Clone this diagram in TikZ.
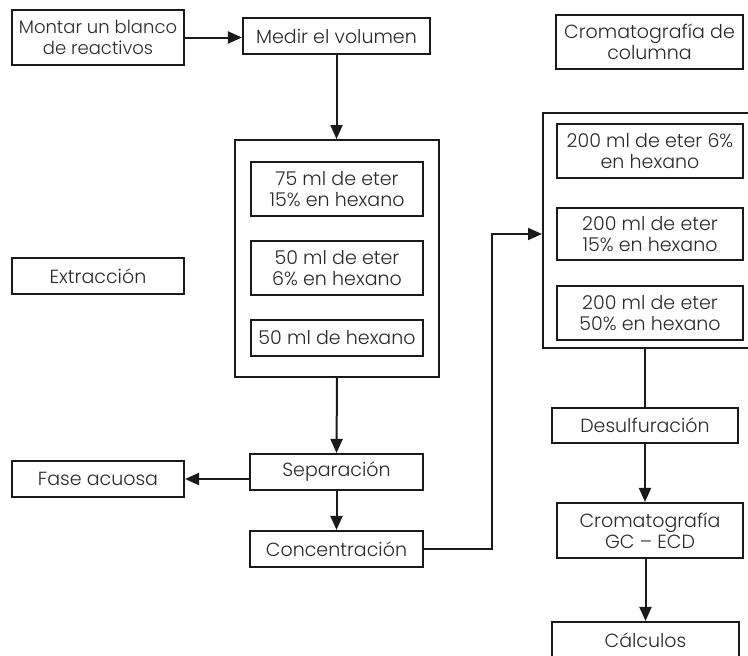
\documentclass[tikz,border=0pt]{standalone}
\usepackage{fontspec}
\setmainfont{Poppins}[UprightFont=* Light]
\usetikzlibrary{arrows.meta}
\definecolor{ink}{HTML}{1A1A1A}
\definecolor{txt}{HTML}{2A2A2A}
\begin{document}
\begin{tikzpicture}[x=1pt,y=-1pt,
  box/.style={draw=ink, line width=2.1pt, text=txt, align=center,
    font=\fontsize{19}{21}\selectfont, inner sep=0pt},
  frame/.style={draw=ink, line width=2pt, inner sep=0pt},
  flow/.style={draw=ink, line width=2pt, -{Triangle[length=14pt,width=12pt]}},
  link/.style={draw=ink, line width=2pt}]
\useasboundingbox[fill=white] (0,0) rectangle (748,656);
\clip (0,0) rectangle (748,656);

% left column: preparation and extraction
\node[box, font=\fontsize{18}{21}\selectfont, minimum width=172pt, minimum height=55pt]
  (montar) at (98,37.5) {Montar un blanco\\de reactivos};
\node[box, minimum width=187pt, minimum height=36pt] (medir) at (336.5,36)
  {Medir el volumen};
\node[box, minimum width=172pt, minimum height=36pt] (extr) at (98,276)
  {Extracción};

\node[frame, minimum width=204pt, minimum height=237pt] (exframe) at (337,258.5) {};
\node[box, minimum width=172pt, minimum height=54pt] (e1) at (337,189)
  {75 ml de eter\\15\% en hexano};
\node[box, minimum width=172pt, minimum height=54pt] (e2) at (337,268)
  {50 ml de eter\\6\% en hexano};
\node[box, minimum width=172pt, minimum height=36pt] (e3) at (337,338)
  {50 ml de hexano};

\node[box, minimum width=173pt, minimum height=36pt] (sep) at (336.5,472)
  {Separación};
\node[box, minimum width=172pt, minimum height=36pt] (fase) at (98,479)
  {Fase acuosa};
\node[box, minimum width=173pt, minimum height=36pt] (conc) at (336.5,549)
  {Concentración};

% right column: column chromatography and analysis
\node[box, minimum width=187pt, minimum height=54pt] (crcol) at (649.5,42)
  {Cromatografía de\\columna};
\node[frame, minimum width=257pt, minimum height=235pt] (colframe) at (671.5,230.5) {};
\node[box, minimum width=186pt, minimum height=54pt] (c1) at (650,151)
  {200 ml de eter 6\%\\en hexano};
\node[box, line width=2.6pt, minimum width=186pt, minimum height=52pt] (c2) at (650,234)
  {200 ml de eter\\15\% en hexano};
\node[box, minimum width=186pt, minimum height=54pt] (c3) at (650,313)
  {200 ml de eter\\50\% en hexano};
\node[box, minimum width=186pt, minimum height=35pt] (desulf) at (645,425.5)
  {Desulfuración};
\node[box, minimum width=186pt, minimum height=55pt] (gc) at (650,530.5)
  {Cromatografía\\GC -- ECD};
\node[box, minimum width=187pt, minimum height=36pt] (calc) at (645.5,640)
  {Cálculos};

% connectors
\draw[flow] (montar.east) -- (montar.east -| medir.west);
\draw[flow] (medir.south) -- (medir.south |- exframe.north);
\draw[flow] (exframe.south) -- (sep.north);
\draw[flow] (fase.east -| sep.west) -- (fase.east);
\draw[flow] (sep.south) -- (conc.north);
\coordinate (up) at (492,234);
\draw[flow] (conc.east) -| (up) -- (up -| colframe.west);
\draw[link] (desulf.north |- colframe.south) -- (desulf.north);
\draw[flow] (desulf.south) -- (desulf.south |- gc.north);
\draw[flow] (calc.north |- gc.south) -- (calc.north);
\end{tikzpicture}
\end{document}
